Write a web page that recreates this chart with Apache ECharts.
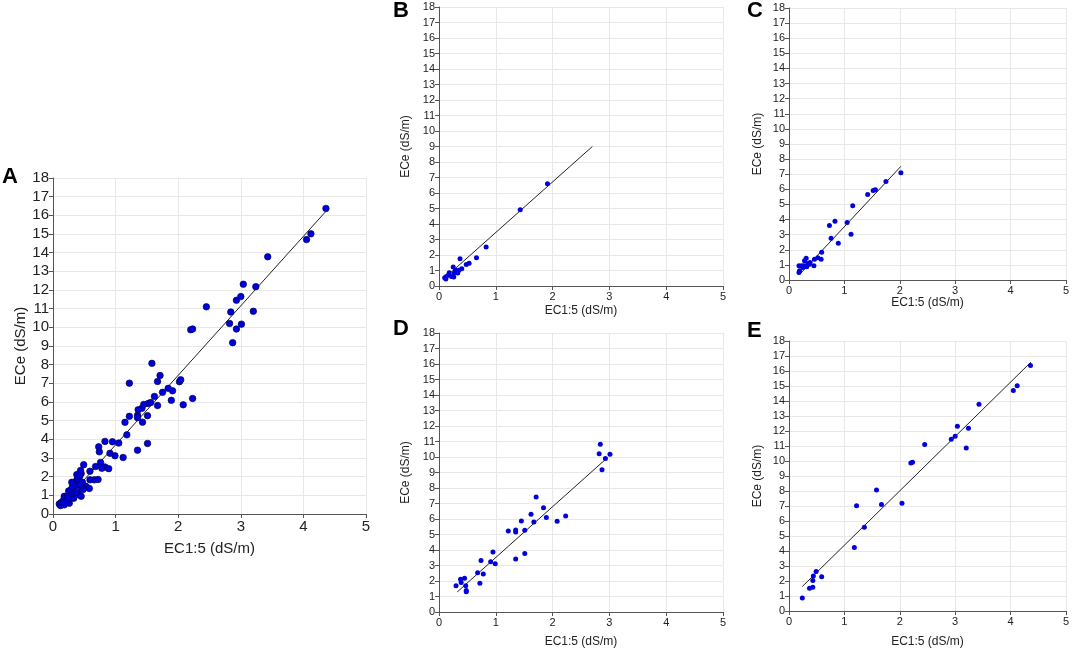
<!DOCTYPE html>
<html>
<head>
<meta charset="utf-8">
<script src="https://cdn.jsdelivr.net/npm/echarts@6/dist/echarts.min.js"></script>
<style>html,body{margin:0;padding:0;background:#fff;}#c{width:1072px;height:649px;}</style>
</head>
<body>
<div id="c"></div>
<script>
// Panel labels and axis texts
var panelLabels = ['A', 'B', 'C', 'D', 'E'];
var xName = 'EC1:5 (dS/m)';
var yName = 'ECe (dS/m)';
var xTicks = [0, 1, 2, 3, 4, 5];
var yTicks = [0, 1, 2, 3, 4, 5, 6, 7, 8, 9, 10, 11, 12, 13, 14, 15, 16, 17, 18];

// Panel B points [EC1:5, ECe]
var pointsB = [
  [0.10, 0.54], [0.12, 0.45], [0.13, 0.62], [0.17, 0.73], [0.18, 0.86],
  [0.22, 0.62], [0.25, 1.23], [0.26, 0.58], [0.27, 0.84], [0.29, 1.01],
  [0.33, 0.84], [0.35, 1.01], [0.37, 1.76], [0.40, 1.12], [0.48, 1.38],
  [0.53, 1.46], [0.66, 1.83], [0.83, 2.52], [1.43, 4.92], [1.91, 6.60]
];
// Panel C points
var pointsC = [
  [0.18, 0.49], [0.19, 0.62], [0.18, 0.95], [0.23, 0.95], [0.25, 0.82],
  [0.27, 0.95], [0.28, 1.28], [0.31, 1.44], [0.32, 0.88], [0.34, 1.10],
  [0.37, 1.04], [0.38, 1.15], [0.45, 0.95], [0.46, 1.37], [0.52, 1.48],
  [0.58, 1.37], [0.59, 1.83], [0.73, 3.60], [0.76, 2.76], [0.83, 3.89],
  [0.89, 2.43], [1.05, 3.80], [1.12, 3.03], [1.15, 4.91], [1.42, 5.66],
  [1.52, 5.92], [1.56, 5.97], [1.75, 6.52], [2.02, 7.09]
];
// Panel D points
var pointsD = [
  [0.30, 1.70], [0.38, 2.11], [0.39, 1.91], [0.45, 2.17], [0.47, 1.70],
  [0.48, 1.38], [0.48, 1.31], [0.68, 2.54], [0.72, 1.85], [0.74, 3.33],
  [0.78, 2.45], [0.91, 3.25], [0.95, 3.87], [0.99, 3.12], [1.22, 5.23],
  [1.35, 5.29], [1.35, 5.16], [1.35, 3.42], [1.45, 5.87], [1.51, 5.27],
  [1.51, 3.78], [1.62, 6.30], [1.67, 5.81], [1.71, 7.42], [1.84, 6.73],
  [1.89, 6.09], [2.08, 5.85], [2.23, 6.19], [2.82, 10.21], [2.84, 10.82],
  [2.87, 9.18], [2.93, 9.91], [3.01, 10.17]
];
// Panel E points
var pointsE = [
  [0.24, 0.86], [0.37, 1.52], [0.43, 1.58], [0.43, 2.04], [0.44, 2.33],
  [0.49, 2.64], [0.59, 2.29], [1.18, 4.24], [1.22, 7.01], [1.36, 5.58],
  [1.58, 8.07], [1.67, 7.10], [2.04, 7.19], [2.20, 9.87], [2.23, 9.91],
  [2.45, 11.10], [2.93, 11.45], [3.00, 11.65], [3.04, 12.31], [3.20, 10.86],
  [3.24, 12.18], [3.43, 13.78], [4.05, 14.70], [4.12, 15.01], [4.36, 16.37]
];
// Panel A: all samples
var pointsA = pointsB.concat(pointsC, pointsD, pointsE);

// Fitted lines (endpoints)
var fitA = [[0.11, 0.39], [4.35, 16.18]];
var fitB = [[0.10, 0.52], [2.70, 9.00]];
var fitC = [[0.20, 0.40], [2.02, 7.52]];
var fitD = [[0.32, 1.29], [2.96, 9.94]];
var fitE = [[0.24, 1.63], [4.37, 16.60]];

var panels = [
  {label: panelLabels[0], pts: pointsA, fit: fitA, big: true,
   grid: {left: 53, top: 178, width: 313, height: 336}, lab: [2, 166], yGap: 25, xGap: 27},
  {label: panelLabels[1], pts: pointsB, fit: fitB, big: false,
   grid: {left: 439, top: 7, width: 284, height: 279}, lab: [393, 0], yGap: 27, xGap: 19},
  {label: panelLabels[2], pts: pointsC, fit: fitC, big: false,
   grid: {left: 789, top: 8, width: 278, height: 272}, lab: [747, 0], yGap: 25, xGap: 14},
  {label: panelLabels[3], pts: pointsD, fit: fitD, big: false,
   grid: {left: 439, top: 333, width: 284, height: 279}, lab: [393, 318], yGap: 27, xGap: 24},
  {label: panelLabels[4], pts: pointsE, fit: fitE, big: false,
   grid: {left: 789, top: 341, width: 278, height: 273}, lab: [747, 320], yGap: 25, xGap: 25}
];

var FONT = 'Liberation Sans, Arial, sans-serif';
var grids = [], xAxes = [], yAxes = [], series = [], graphics = [];
panels.forEach(function (p, i) {
  grids.push({left: p.grid.left, top: p.grid.top, width: p.grid.width, height: p.grid.height, containLabel: false});
  var tickFs = p.big ? 15 : 11;
  var nameFs = p.big ? 15 : 12;
  var axisCommon = {
    axisLine: {show: true, lineStyle: {color: '#555', width: 1}},
    axisTick: {show: true, length: 4, lineStyle: {color: '#555'}},
    splitLine: {show: true, lineStyle: {color: '#e8e8e8', width: 1}},
    nameLocation: 'middle',
    nameTextStyle: {color: '#222', fontSize: nameFs, fontFamily: FONT}
  };
  xAxes.push(Object.assign({}, axisCommon, {
    type: 'value', gridIndex: i, min: xTicks[0], max: xTicks[xTicks.length - 1], interval: 1,
    name: xName, nameGap: p.xGap,
    axisLabel: {color: '#222', fontSize: tickFs, fontFamily: FONT, margin: 5, showMaxLabel: true}
  }));
  yAxes.push(Object.assign({}, axisCommon, {
    type: 'value', gridIndex: i, min: yTicks[0], max: yTicks[yTicks.length - 1], interval: 1,
    name: yName, nameGap: p.yGap,
    axisLabel: {color: '#222', fontSize: tickFs, fontFamily: FONT, margin: 4, showMaxLabel: true}
  }));
  series.push({
    type: 'line', xAxisIndex: i, yAxisIndex: i, data: p.fit, showSymbol: false, symbol: 'none',
    lineStyle: {color: '#222', width: 1}, silent: true, z: 3, animation: false
  });
  series.push({
    type: 'scatter', xAxisIndex: i, yAxisIndex: i, data: p.pts,
    symbolSize: p.big ? 6.5 : 5,
    itemStyle: p.big ? {color: '#0000dd', borderColor: '#000055', borderWidth: 0.7, opacity: 1}
                     : {color: '#0000dd', opacity: 1},
    z: 4, animation: false
  });
  graphics.push({
    type: 'text', left: p.lab[0], top: p.lab[1],
    style: {text: p.label, font: 'bold 22px ' + FONT, fill: '#000'}
  });
});

var chart = echarts.init(document.getElementById('c'), null, {renderer: 'canvas'});
chart.setOption({
  animation: false,
  backgroundColor: '#fff',
  grid: grids, xAxis: xAxes, yAxis: yAxes, series: series, graphic: graphics
});
</script>
</body>
</html>
